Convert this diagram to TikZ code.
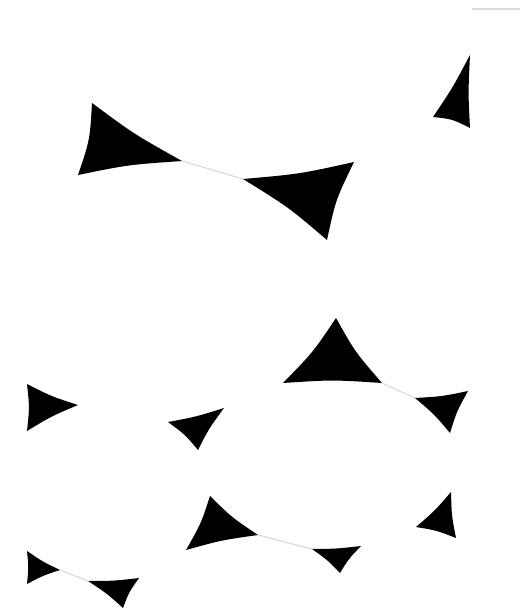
\documentclass[tikz,border=0pt]{standalone}
\usetikzlibrary{calc}
\tikzset{
  headfill/.style={fill=black},
  faint/.style={draw=black!14, line width=1.2pt},
}
\newcommand\mytri[4]{%
  \coordinate (#1a) at (#2);
  \coordinate (#1b) at (#3);
  \coordinate (#1c) at (#4);
  \coordinate (#1mab) at ($(#1a)!0.5!(#1b)$);
  \coordinate (#1mbc) at ($(#1b)!0.5!(#1c)$);
  \coordinate (#1mca) at ($(#1c)!0.5!(#1a)$);
  \fill[headfill] (#1a) .. controls ($(#1mab)!0.05!(#1c)$) .. (#1b)
    .. controls ($(#1mbc)!0.05!(#1a)$) .. (#1c)
    .. controls ($(#1mca)!0.05!(#1b)$) .. (#1a) -- cycle;}
\begin{document}
\begin{tikzpicture}[x=1pt,y=-1pt]
\useasboundingbox (0,0) rectangle (526,616);
% faint connector lines
\coordinate (topA) at (472,9);
\coordinate (topB) at (520,9);
\draw[faint] (topA) -- (topB);
\mytri{t1}{92,103}{78,175}{182,161}
\mytri{t2}{243,179}{354,162}{327,240}
\mytri{t3}{470,55}{433,117}{470,128}
\mytri{t4}{27,384}{27,431}{78,405}
\mytri{t5}{168,422}{224,408}{198,450}
\mytri{t6}{336,318}{283,383}{382,383}
\mytri{t7}{415,398}{468,391}{450,433}
\mytri{t8}{27,551}{27,584}{60,570}
\mytri{t9}{88,581}{139,578}{123,608}
\mytri{t10}{210,496}{186,550}{258,535}
\mytri{t11}{312,549}{361,546}{340,573}
\mytri{t12}{451,492}{416,527}{456,538}
\draw[faint] (t1c) -- (t2a);
\draw[faint] (t6c) -- (t7a);
\draw[faint] (t8c) -- (t9a);
\draw[faint] (t10c) -- (t11a);
\end{tikzpicture}
\end{document}
